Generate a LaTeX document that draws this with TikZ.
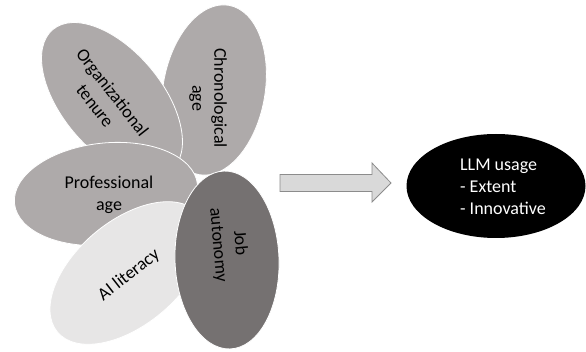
\documentclass[tikz,border=0pt]{standalone}
\usepackage{fontspec}
\setmainfont{Carlito}
\usetikzlibrary{shapes.geometric}
\definecolor{petalgray}{HTML}{AEAAAA}
\definecolor{petaldark}{HTML}{757171}
\definecolor{petallight}{HTML}{E7E6E6}
\definecolor{arrowfill}{HTML}{D9D9D9}
\definecolor{arrowline}{HTML}{8C8C8C}

\begin{document}
\begin{tikzpicture}[
  x=1pt, y=-1pt,
  every node/.style = {align=center, inner sep=0pt, font=\fontsize{18}{22}\selectfont},
  petal/.style = {ellipse, draw=white, line width=0.8pt, fill=petalgray},
  blockarrow/.style = {draw=arrowline, line width=0.8pt, fill=arrowfill}
]
  \useasboundingbox (0,0) rectangle (586,352);
  % petals, back to front
  \node[petal, minimum width=102pt, minimum height=172pt, rotate=-10] (chronoell) at (214,90) {};
  \node[petal, minimum width=184pt, minimum height=100pt, rotate=-50] (tenureell) at (112,100) {};
  \node[petal, minimum width=184pt, minimum height=102pt, rotate=6] (profell) at (106,194) {};
  \node[petal, fill=petallight, minimum width=184pt, minimum height=104pt, rotate=40] (literacyell) at (128,273) {};
  \node[petal, fill=petaldark, minimum width=104pt, minimum height=178pt, rotate=2] (autonomyell) at (227,260) {};
  % labels
  \node[rotate=-90] (chrono) at (208,98) {Chronological\\age};
  \node[rotate=-52] (tenure) at (104,99) {Organizational\\tenure};
  \node (prof) at (109,195) {Professional\\age};
  \node[rotate=38] (literacy) at (129,275) {AI literacy};
  \node[rotate=-85] (autonomy) at (229,244) {Job\\autonomy};
  % outcome
  \node[ellipse, fill=black, minimum width=179pt, minimum height=104pt] (usage) at (496,186) {};
  \node[text=white, align=left] (usagetxt) at (503,187) {LLM usage\\- Extent\\- Innovative};
  % block arrow
  \coordinate (tail) at (280,183);
  \coordinate (tip) at (391,183);
  \draw[blockarrow] (tail) ++(0,-8.5) -- ++(92,0) -- ++(0,-11.5) -- (tip)
    -- ++(-19,19) -- ++(0,-10.5) -- ++(-92,0) -- cycle;
\end{tikzpicture}
\end{document}
